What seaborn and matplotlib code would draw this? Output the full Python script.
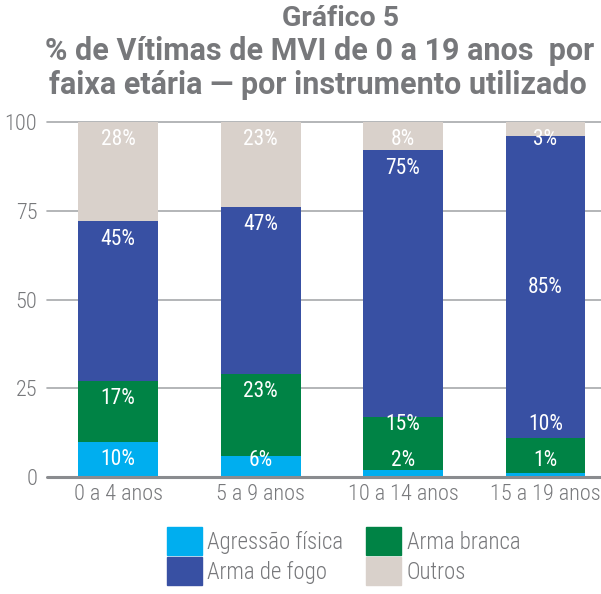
import matplotlib
matplotlib.use("Agg")
import matplotlib.pyplot as plt
from matplotlib.patches import Patch
import numpy as np
import pandas as pd
import seaborn as sns

# data (% per age group)
faixas = ["0 a 4 anos", "5 a 9 anos", "10 a 14 anos", "15 a 19 anos"]
agressao = [10, 6, 2, 1]
arma_branca = [17, 23, 15, 10]
arma_fogo = [45, 47, 75, 85]
outros = [28, 23, 8, 3]
total = [100, 100, 100, 100]  # rounded shares, bars are drawn up to 100

series = ["Agressão física", "Arma branca", "Arma de fogo", "Outros"]
cores = ["#00aeef", "#008345", "#3850a3", "#d9d1cb"]
cinza = "#77787b"

sns.set_theme(style="white")
plt.rcParams["font.family"] = ["Roboto Condensed", "DejaVu Sans"]

df = pd.DataFrame({"faixa": faixas, series[0]: agressao, series[1]: arma_branca,
                   series[2]: arma_fogo, series[3]: outros})
cum = df[series].cumsum(axis=1)
cum[series[3]] = total

fig = plt.figure(figsize=(6.01, 5.94), dpi=100)
ax = fig.add_axes([47 / 601, 1 - 477 / 594, 554 / 601, 355 / 594])

# gridlines behind the bars
for v in [25, 50, 75, 100]:
    ax.axhline(v, color="#a7a9ac", lw=1.2, zorder=0, clip_on=False)

# stacked bars: draw cumulative totals, largest first
for s, c in reversed(list(zip(series, cores))):
    sns.barplot(x=df["faixa"], y=cum[s], color=c, width=0.56, ax=ax,
                saturation=1, linewidth=0, zorder=2)

ax.axhline(0, color="#8a8c8f", lw=2.2, zorder=3, clip_on=False)


def label_y(vals, tops):
    # label sits a bit under the top of its segment, small ones get pushed up
    bots = [t - v for t, v in zip(tops, vals)]
    ys = [max(t - 5, 4.7) for t in tops]
    for i in range(1, len(ys)):
        d = ys[i] - ys[i - 1]
        if d < 6 and vals[i - 1] > 20:
            ys[i - 1] = (tops[i - 1] + bots[i - 1]) / 2
        elif d < 10 and vals[i - 1] <= 20:
            ys[i] = ys[i - 1] + 10
    return ys


for i, f in enumerate(faixas):
    vals = [agressao[i], arma_branca[i], arma_fogo[i], outros[i]]
    tops = list(np.cumsum(vals[:3])) + [total[i]]
    for v, y in zip(vals, label_y(vals, tops)):
        ax.text(i, y, f"{v}%", ha="center", va="center", color="white",
                fontsize=15.5, zorder=5)

ax.set_xlim(-0.5, 3.39)
ax.set_ylim(0, 100)
ax.set_yticks([0, 25, 50, 75, 100])
ax.set_xlabel("")
ax.set_ylabel("")
ax.tick_params(axis="both", colors=cinza, labelsize=16, length=0)
ax.tick_params(axis="y", pad=7)
ax.tick_params(axis="x", pad=5)
for t in ax.get_xticklabels() + ax.get_yticklabels():
    t.set_fontweight("light")
sns.despine(ax=ax, left=True, bottom=True)

# title
titulo = dict(ha="center", va="center", fontweight="bold", color=cinza,
              family=["Roboto", "DejaVu Sans"])
fig.text(341 / 601, 1 - 19 / 594, "Gráfico 5", fontsize=20.5, **titulo)
fig.text(320 / 601, 1 - 51 / 594, "% de Vítimas de MVI de 0 a 19 anos  por",
         fontsize=22, **titulo)
fig.text(318 / 601, 1 - 85 / 594, "faixa etária — por instrumento utilizado",
         fontsize=22, **titulo)

handles = [Patch(color=c, label=s) for s, c in zip(series, cores)]
ordem = [0, 2, 1, 3]
leg = fig.legend([handles[k] for k in ordem], [series[k] for k in ordem],
                 ncol=2, loc="center", bbox_to_anchor=(0.572, 0.064),
                 frameon=False, prop={"size": 16.5, "weight": "light"},
                 handlelength=1.5, handleheight=1.45,
                 handletextpad=0.25, columnspacing=1.0, labelspacing=0.12,
                 borderpad=0)
for t in leg.get_texts():
    t.set_color(cinza)

fig.savefig("out.png", dpi=100)
